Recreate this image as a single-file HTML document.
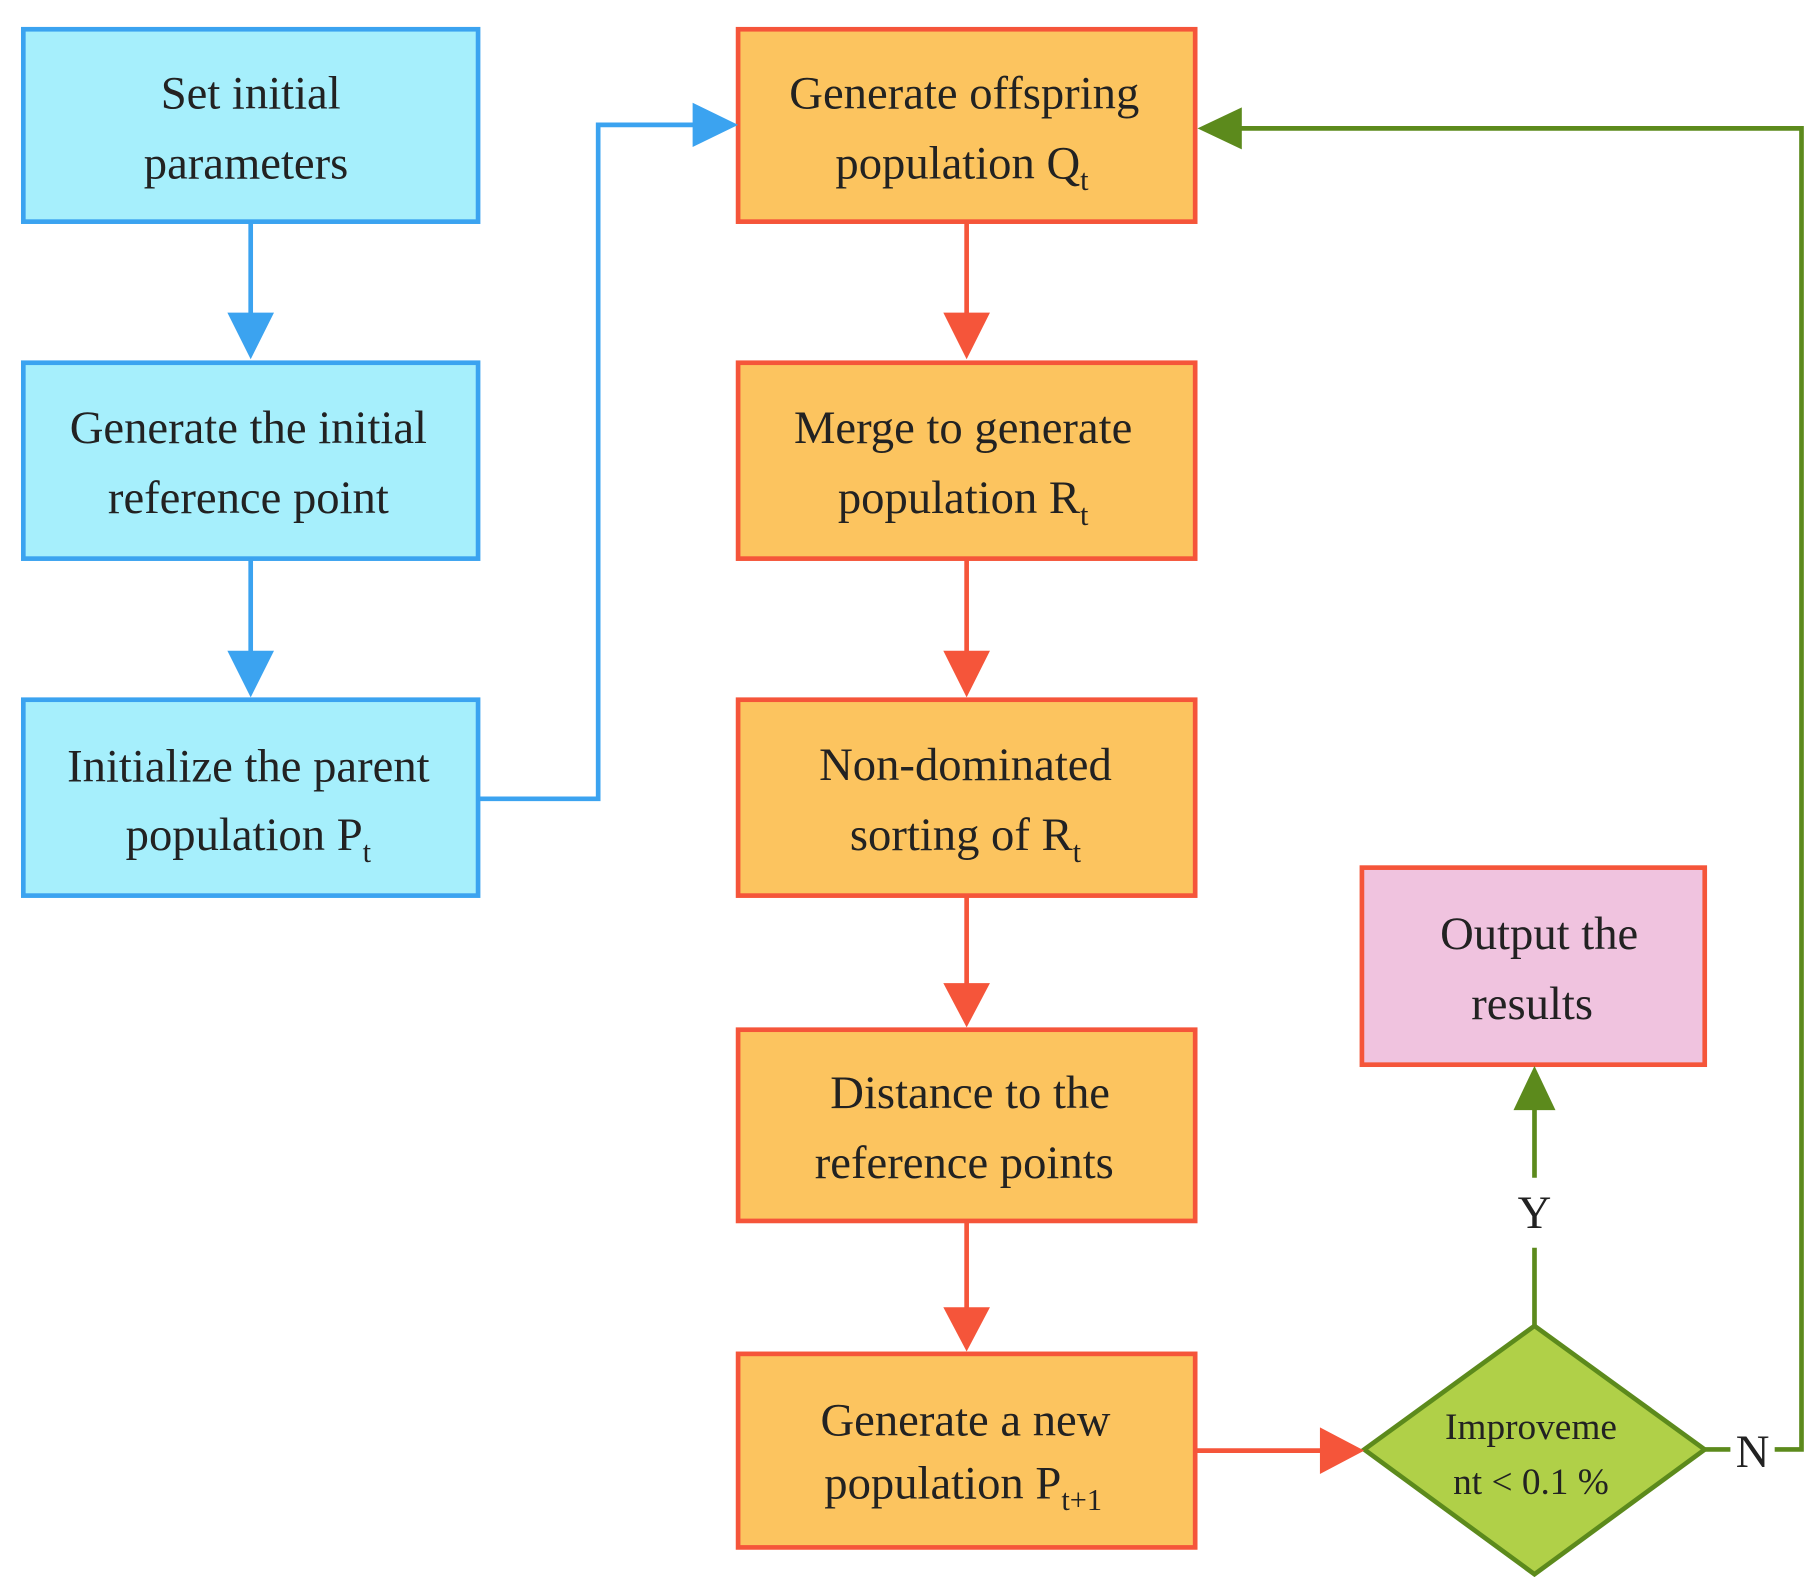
<!DOCTYPE html>
<html><head><meta charset="utf-8"><style>html,body{margin:0;padding:0;background:#fff}svg{display:block}</style></head>
<body>
<svg width="1819" height="1593" viewBox="0 0 1560 1366" xmlns="http://www.w3.org/2000/svg" font-family="Liberation Serif, serif" font-size="40" fill="#222">
<defs>
<marker id="ab" markerWidth="10" markerHeight="10" refX="9" refY="5" orient="auto" markerUnits="userSpaceOnUse"><path d="M0,0 L0,0" /></marker>
</defs>
<g stroke-width="4">
<!-- blue boxes -->
<rect x="20" y="25" width="390" height="165" fill="#a6effc" stroke="#3ba3f0"/>
<rect x="20" y="311" width="390" height="168" fill="#a6effc" stroke="#3ba3f0"/>
<rect x="20" y="600" width="390" height="168" fill="#a6effc" stroke="#3ba3f0"/>
<!-- orange -->
<rect x="633" y="25" width="392" height="165" fill="#fcc45f" stroke="#f5553a"/>
<rect x="633" y="311" width="392" height="168" fill="#fcc45f" stroke="#f5553a"/>
<rect x="633" y="600" width="392" height="168" fill="#fcc45f" stroke="#f5553a"/>
<rect x="633" y="883" width="392" height="164" fill="#fcc45f" stroke="#f5553a"/>
<rect x="633" y="1161" width="392" height="166" fill="#fcc45f" stroke="#f5553a"/>
<rect x="1168" y="744" width="294" height="169" fill="#f0c3df" stroke="#f5553a"/>
<polygon points="1170,1243 1316,1137 1462,1243 1316,1350" fill="#b0d048" stroke="#5c8a1c"/>
</g>
<g fill="none" stroke-width="4">
<path d="M215,190 V272 M215,479 V562" stroke="#3ba3f0"/>
<path d="M410,685 H513 V107 H598" stroke="#3ba3f0"/>
<path d="M829,190 V272 M829,479 V562 M829,768 V846 M829,1047 V1124 M1025,1244 H1135" stroke="#f5553a"/>
<path d="M1316,1137 V1070 M1316,1010 V950 M1462,1243 H1484 M1522,1243 H1545 V110 H1062" stroke="#5c8a1c"/>
</g>
<g>
<polygon points="195,268 235,268 215,308" fill="#3ba3f0"/>
<polygon points="195,558 235,558 215,598" fill="#3ba3f0"/>
<polygon points="594,88 594,126 633,107" fill="#3ba3f0"/>
<polygon points="809,268 849,268 829,308" fill="#f5553a"/>
<polygon points="809,558 849,558 829,598" fill="#f5553a"/>
<polygon points="809,843 849,843 829,881" fill="#f5553a"/>
<polygon points="809,1121 849,1121 829,1159" fill="#f5553a"/>
<polygon points="1132,1224 1132,1264 1170,1244" fill="#f5553a"/>
<polygon points="1298,952 1334,952 1316,914" fill="#5c8a1c"/>
<polygon points="1065,92 1065,128 1027,110" fill="#5c8a1c"/>
</g>
<g text-anchor="middle">
<text x="215" y="93">Set initial</text>
<text x="211" y="153">parameters</text>
<text x="213" y="380">Generate the initial</text>
<text x="213" y="440">reference point</text>
<text x="213" y="670">Initialize the parent</text>
<text x="213" y="729">population P<tspan font-size="26" dy="10">t</tspan></text>
<text x="827" y="93">Generate offspring</text>
<text x="825" y="153">population Q<tspan font-size="26" dy="10">t</tspan></text>
<text x="826" y="380">Merge to generate</text>
<text x="826" y="440">population R<tspan font-size="26" dy="10">t</tspan></text>
<text x="828" y="669">Non-dominated</text>
<text x="828" y="729">sorting of R<tspan font-size="26" dy="10">t</tspan></text>
<text x="832" y="950">Distance to the</text>
<text x="827" y="1010">reference points</text>
<text x="828" y="1231">Generate a new</text>
<text x="826" y="1285">population P<tspan font-size="26" dy="10">t+1</tspan></text>
<text x="1320" y="814">Output the</text>
<text x="1314" y="874">results</text>
<text x="1313" y="1234" font-size="32">Improveme</text>
<text x="1313" y="1281" font-size="32">nt &lt; 0.1 %</text>
<text x="1316" y="1053">Y</text>
<text x="1503" y="1258">N</text>
</g>
</svg>
</body></html>
